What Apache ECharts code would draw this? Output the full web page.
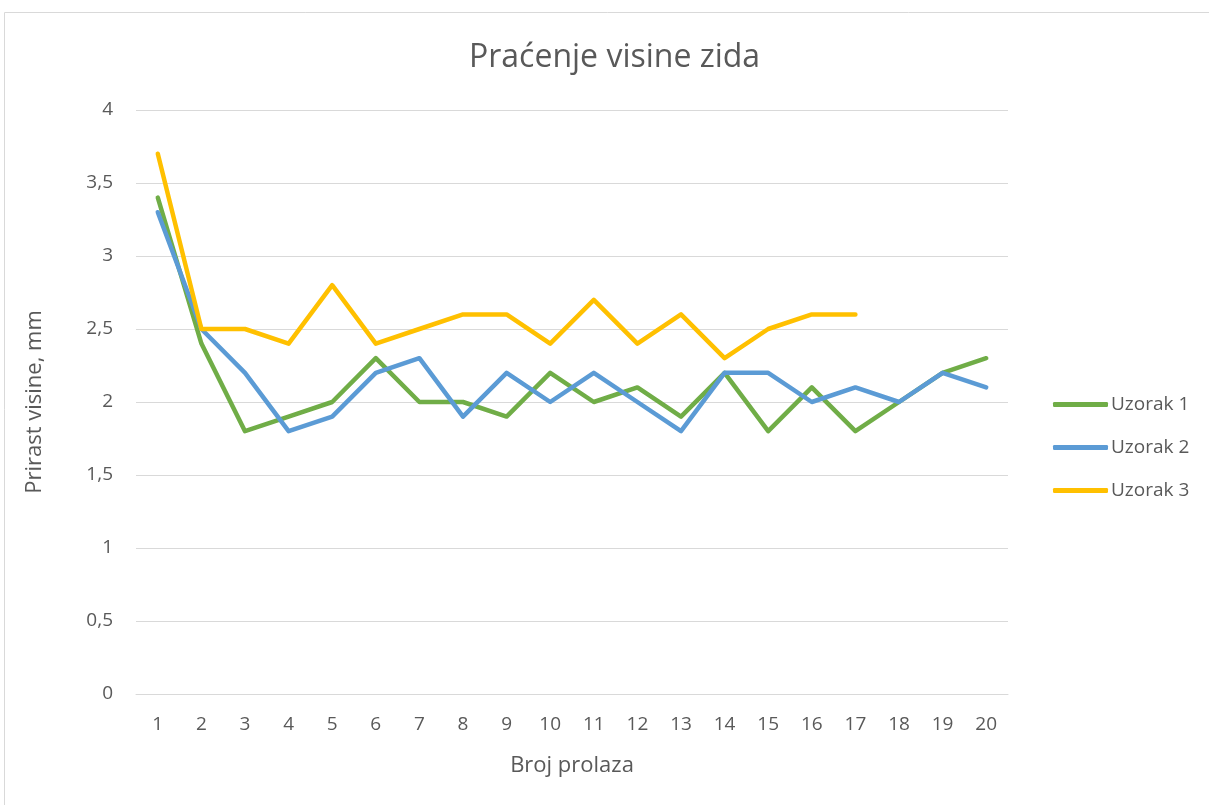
<!DOCTYPE html>
<html><head><meta charset="utf-8">
<script src="https://cdn.jsdelivr.net/npm/echarts@6/dist/echarts.min.js"></script>
<style>html,body{margin:0;padding:0;background:#fff}#c{width:1209px;height:805px}</style>
</head><body><div id="c"></div>
<script>
const categories = ['1','2','3','4','5','6','7','8','9','10','11','12','13','14','15','16','17','18','19','20'];
const uzorak1 = [3.4,2.4,1.8,1.9,2.0,2.3,2.0,2.0,1.9,2.2,2.0,2.1,1.9,2.2,1.8,2.1,1.8,2.0,2.2,2.3];
const uzorak2 = [3.3,2.5,2.2,1.8,1.9,2.2,2.3,1.9,2.2,2.0,2.2,2.0,1.8,2.2,2.2,2.0,2.1,2.0,2.2,2.1];
const uzorak3 = [3.7,2.5,2.5,2.4,2.8,2.4,2.5,2.6,2.6,2.4,2.7,2.4,2.6,2.3,2.5,2.6,2.6,null,null,null];
const seriesNames = ['Uzorak 1','Uzorak 2','Uzorak 3'];
const colors = ['#70AD47','#5B9BD5','#FFC000'];
const FONT = 'Open Sans';
const chart = echarts.init(document.getElementById('c'));
const mk = (name, data, color) => ({
  name, type:'line', data, color, symbol:'none', smooth:false,
  lineStyle:{width:4.5, color, cap:'round', join:'round'}, connectNulls:false
});
chart.setOption({
  animation:false,
  textStyle:{fontFamily:FONT},
  graphic:[{type:'rect', shape:{x:4.5,y:12.5,width:1230,height:800}, style:{fill:'none',stroke:'#d9d9d9',lineWidth:1}, silent:true}],
  title:{text:'Praćenje visine zida', left:469, top:42, itemGap:0, padding:0,
    textStyle:{fontFamily:FONT, fontSize:32, fontWeight:'normal', color:'#595959'}},
  legend:{orient:'vertical', left:1048, top:390, itemGap:24, itemWidth:55, itemHeight:5,
    icon:'roundRect', textStyle:{fontFamily:FONT, fontSize:19, color:'#595959', padding:[0,0,0,-2]},
    data:seriesNames},
  grid:{left:136, right:201, top:110, bottom:111, containLabel:false},
  xAxis:{type:'category', data:categories, boundaryGap:true,
    name:'Broj prolaza', nameLocation:'middle', nameGap:61,
    nameTextStyle:{fontFamily:FONT, fontSize:22, color:'#595959'},
    axisLine:{lineStyle:{color:'#d9d9d9', width:1}}, axisTick:{show:false},
    axisLabel:{fontFamily:FONT, fontSize:19, color:'#595959', margin:21}},
  yAxis:{type:'value', min:0, max:4, interval:0.5,
    name:'Prirast visine, mm', nameLocation:'middle', nameGap:90,
    nameTextStyle:{fontFamily:FONT, fontSize:22, color:'#595959'},
    axisLine:{show:false}, axisTick:{show:false},
    splitLine:{lineStyle:{color:'#d9d9d9', width:1}},
    axisLabel:{fontFamily:FONT, fontSize:19, color:'#595959', margin:23,
      formatter:v=>String(v).replace('.',',')}},
  series:[mk(seriesNames[0],uzorak1,colors[0]), mk(seriesNames[1],uzorak2,colors[1]), mk(seriesNames[2],uzorak3,colors[2])]
});
</script></body></html>
